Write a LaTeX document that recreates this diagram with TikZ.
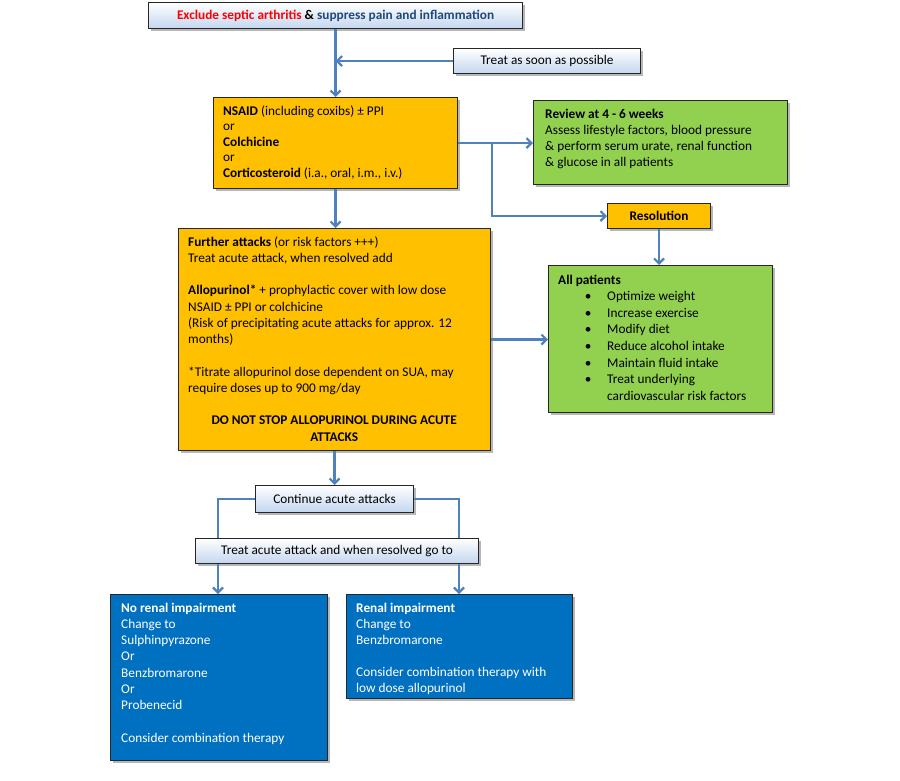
\documentclass[tikz,border=0pt]{standalone}
\usepackage{fontspec}
\setmainfont{Carlito}
\usetikzlibrary{arrows.meta,shadows,calc}
\definecolor{ylw}{HTML}{FFC000}
\definecolor{grn}{HTML}{92D050}
\definecolor{blu}{HTML}{0070C0}
\definecolor{lblue}{HTML}{C3D6EF}
\definecolor{arrc}{HTML}{4F81BD}
\definecolor{dkblue}{HTML}{1F497D}
\definecolor{redt}{HTML}{FF0000}
\newcommand{\bl}[1]{\hspace*{27.5pt}\makebox[5pt]{\textbullet}\hspace*{16.5pt}#1}
\begin{document}
\begin{tikzpicture}[x=1pt,y=-1pt,
  box/.style={draw=black!85, line width=1.1pt, anchor=north west, inner sep=0pt,
    drop shadow={shadow xshift=2.5pt,shadow yshift=-2.5pt,opacity=0.4,fill=black!70}},
  lbox/.style={box, top color=white, bottom color=lblue, font=\fontsize{13.3}{15}\selectfont},
  ybox/.style={box, fill=ylw},
  gbox/.style={box, fill=grn},
  bbox/.style={box, fill=blu},
  txt/.style={anchor=base west, inner sep=0pt, font=\fontsize{13.3}{16.3}\selectfont},
  conn/.style={draw=arrc, line width=2.2pt},
  arr/.style={conn, -{Straight Barb[length=5pt,width=10pt]}}
]
\useasboundingbox (0,0) rectangle (900,780);
\fill[white] (0,0) rectangle (900,780);

% boxes
\node[lbox, minimum width=374pt, minimum height=26pt] (top) at (148,2)
  {\textbf{\color{redt}Exclude septic arthritis} \textbf{\&} \textbf{\color{dkblue}suppress pain and inflammation}};
\node[lbox, minimum width=187pt, minimum height=25pt] (treat) at (453,48) {Treat as soon as possible};
\node[ybox, minimum width=244pt, minimum height=91pt] (nsaid) at (213,97) {};
\node[gbox, minimum width=254pt, minimum height=84pt] (review) at (533,100) {};
\node[ybox, minimum width=103pt, minimum height=25pt, font=\fontsize{13.3}{15}\selectfont\bfseries] (resol) at (607,203) {Resolution};
\node[ybox, minimum width=312pt, minimum height=222pt] (further) at (178,228) {};
\node[gbox, minimum width=224pt, minimum height=147pt] (allp) at (548,265) {};
\node[lbox, minimum width=158pt, minimum height=27pt] (cont) at (255,485) {Continue acute attacks};
\node[lbox, minimum width=283pt, minimum height=25pt] (tacute) at (195,538) {Treat acute attack and when resolved go to};
\node[bbox, minimum width=217pt, minimum height=166pt] (norenal) at (110,594) {};
\node[bbox, minimum width=226pt, minimum height=104pt] (renal) at (346,594) {};

% texts
\node[txt] (t-nsaid) at (223,115) {\begin{minipage}[t]{230pt}\fontsize{13.3}{15.5}\selectfont
\textbf{NSAID} (including coxibs) ± PPI\\
or\\
\textbf{Colchicine}\\
or\\
\textbf{Corticosteroid} (i.a., oral, i.m., i.v.)
\end{minipage}};
\node[txt] (t-review) at (545,118) {\begin{minipage}[t]{238pt}\fontsize{13.3}{16.3}\selectfont
\textbf{Review at 4 - 6 weeks}\\
Assess lifestyle factors, blood pressure\\
\& perform serum urate, renal function\\
\& glucose in all patients
\end{minipage}};
\node[txt] (t-further) at (188,246) {\begin{minipage}[t]{292pt}\fontsize{13.3}{16.25}\selectfont
\textbf{Further attacks} (or risk factors +++)\\
Treat acute attack, when resolved add\\[16.25pt]
\textbf{Allopurinol*} + prophylactic cover with low dose\\
NSAID ± PPI or colchicine\\
(Risk of precipitating acute attacks for approx. 12\\
months)\\[16.25pt]
*Titrate allopurinol dose dependent on SUA, may\\
require doses up to 900 mg/day\par
\vspace{16.25pt}
{\centering\bfseries DO NOT STOP ALLOPURINOL DURING ACUTE\\
ATTACKS\par}
\end{minipage}};
\node[txt] (t-allp) at (558,284) {\begin{minipage}[t]{212pt}\fontsize{13.3}{16.6}\selectfont
\textbf{All patients}\\
\bl{Optimize weight}\\
\bl{Increase exercise}\\
\bl{Modify diet}\\
\bl{Reduce alcohol intake}\\
\bl{Maintain fluid intake}\\
\bl{Treat underlying}\\
\hspace*{49pt}cardiovascular risk factors
\end{minipage}};
\node[txt, text=white] (t-norenal) at (121,612) {\begin{minipage}[t]{204pt}\fontsize{13.3}{16.3}\selectfont
\textbf{No renal impairment}\\
Change to\\
Sulphinpyrazone\\
Or\\
Benzbromarone\\
Or\\
Probenecid\\[16.3pt]
Consider combination therapy
\end{minipage}};
\node[txt, text=white] (t-renal) at (356,612) {\begin{minipage}[t]{214pt}\fontsize{13.3}{16}\selectfont
\textbf{Renal impairment}\\
Change to\\
Benzbromarone\\[16pt]
Consider combination therapy with\\
low dose allopurinol
\end{minipage}};

% connectors
\draw[arr] (top.south) -- (nsaid.north);
\draw[arr] (treat.west) -- (treat.west -| top.south);
\draw[arr] (nsaid.south) -- (nsaid.south |- further.north);
\draw[arr] (nsaid.east) -- (nsaid.east -| review.west);
\coordinate (br) at (492,0);
\draw[arr] (nsaid.east -| br) |- (resol.west);
\draw[arr] (resol.south) -- (resol.south |- allp.north);
\draw[arr] (further.east) -- (further.east -| allp.west);
\draw[arr] (further.south) -- (further.south |- cont.north);
\coordinate (cl) at (218,0);
\coordinate (cr) at (459,0);
\draw[conn] (cont.west) -| (tacute.north -| cl);
\draw[conn] (cont.east) -| (tacute.north -| cr);
\draw[arr] (tacute.south -| cl) -- (norenal.north -| cl);
\draw[arr] (tacute.south -| cr) -- (renal.north -| cr);
\end{tikzpicture}
\end{document}
